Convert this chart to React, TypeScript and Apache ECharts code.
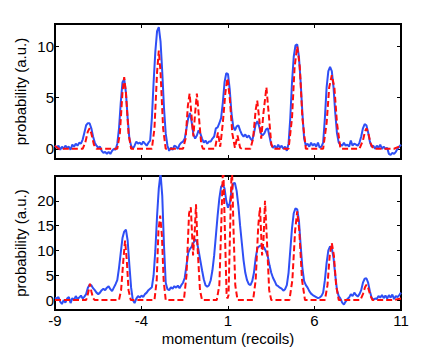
import React, { useEffect, useRef } from "react";
import * as echarts from "echarts";

// Sampling grid of the measured curves (momentum, recoils)
const momentumStart = -9;
const momentumStep = 0.1;

// Measured probability, upper panel (blue solid), one row per recoil unit
const topMeasured = [
  0.3, 0.1, 0.3, -0.1, 0.2, 0.0, 0.3, 0.1, 0.2, -0.1,
  0.4, 0.2, 0.5, 0.3, 0.6, 0.5, 0.9, 1.6, 2.3, 2.5,
  2.5, 2.0, 1.2, 0.6, 0.3, 0.1, 0.2, -0.2, -0.4, -0.3,
  -0.5, -0.3, -0.5, -0.2, 0.0, -0.1, 0.5, 2.0, 4.5, 6.5,
  6.8, 5.5, 3.0, 1.0, 0.3, 0.0, 0.3, 0.7, 0.5, 0.6,
  0.4, 0.7, 0.5, 0.3, 0.6, 0.8, 3.0, 6.5, 9.5, 11.5,
  11.9, 10.5, 7.5, 4.0, 1.5, 0.3, -0.2, 0.1, -0.1, 0.3,
  0.2, 0.0, 0.4, 0.6, 0.7, 1.0, 2.0, 3.0, 3.5, 2.6,
  1.4, 1.0, 1.3, 1.8, 1.5, 1.0, 0.6, 0.8, 0.5, 0.7,
  0.7, 1.0, 1.2, 2.0, 2.1, 2.5, 3.0, 4.5, 6.5, 7.4,
  7.3, 5.8, 3.5, 2.2, 1.8, 2.2, 2.3, 1.8, 1.4, 1.2,
  1.4, 1.1, 1.3, 1.0, 0.8, 1.5, 2.4, 2.7, 2.2, 1.5,
  1.3, 1.5, 1.9, 2.0, 1.2, 0.4, 0.1, 0.3, 0.0, 0.4,
  0.1, 0.3, 0.0, 0.2, -0.2, 0.5, 3.0, 6.5, 9.0, 10.1,
  10.2, 9.0, 6.5, 3.5, 1.0, 0.3, 0.5, 0.2, 0.6, 0.3,
  0.5, 0.2, 0.6, 0.1, 0.2, 0.6, 3.0, 6.0, 7.6, 8.0,
  7.6, 6.0, 3.5, 1.5, 0.6, 0.4, 0.3, 0.6, 0.3, 0.4,
  0.2, 0.8, 0.3, 0.5, 0.4, 0.3, 0.6, 1.2, 2.0, 2.4,
  2.3, 1.6, 0.7, 0.2, 0.3, 0.0, 0.3, 0.1, 0.4, 0.0,
  0.2, 0.0, 0.1, -0.5, -0.6, -0.4, -0.5, -0.3, 0.0, 0.2,
  0.4,
];

// Measured probability, lower panel (blue solid)
const bottomMeasured = [
  0.5, 0.3, 0.6, -0.3, -0.8, 0.0, -0.5, 0.3, 0.6, -0.6,
  0.4, 0.0, 0.8, 0.2, 0.5, 0.9, 0.3, 0.7, 1.2, 2.5,
  3.1, 3.0, 2.4, 2.0, 1.5, 1.2, 1.5, 2.0, 2.3, 2.0,
  2.5, 2.8, 2.2, 1.8, 2.5, 3.2, 4.0, 6.5, 9.5, 12.5,
  13.8, 14.2, 12.0, 7.0, 2.5, 0.0, -0.6, 0.3, 0.8, 0.5,
  0.9, 0.6, 1.2, 1.5, 2.0, 2.3, 2.6, 5.0, 10.0, 17.0,
  22.5, 25.5, 21.0, 11.0, 3.5, 2.2, 2.0, 2.6, 2.3, 2.8,
  2.5, 2.9, 2.4, 3.0, 3.5, 4.5, 7.0, 9.5, 10.3, 10.8,
  11.5, 12.2, 11.8, 10.0, 8.0, 6.0, 4.2, 3.0, 2.7, 3.0,
  4.0, 6.0, 9.0, 13.0, 17.0, 20.5, 22.8, 23.3, 22.5, 20.0,
  18.6, 19.5, 22.0, 23.5, 23.6, 22.0, 19.0, 15.0, 11.5, 8.0,
  5.5, 4.0, 3.2, 3.0, 3.8, 5.5, 8.5, 10.5, 10.8, 11.0,
  10.9, 10.5, 9.8, 8.8, 7.0, 5.5, 4.5, 3.8, 3.0, 2.8,
  2.5, 2.3, 1.9, 2.2, 3.0, 5.5, 10.0, 14.5, 17.5, 18.5,
  18.3, 16.0, 11.0, 6.5, 3.8, 3.0, 2.5, 1.8, 1.3, 1.0,
  0.8, 0.6, 0.4, 0.5, 0.8, 1.5, 4.0, 7.5, 10.0, 10.8,
  10.5, 8.5, 5.0, 2.0, 0.8, 0.3, -0.5, -0.9, -0.3, 0.2,
  0.5, 1.2, 0.8, 1.5, 1.0, 0.7, 1.2, 2.0, 3.5, 4.3,
  4.4, 3.5, 1.8, 0.5, 0.1, 0.3, 0.2, 0.8, 0.5, 1.0,
  0.4, 0.9, 0.3, 1.0, 0.5, 1.1, 0.2, 0.8, 0.6, 1.0,
  1.5,
];

// Theory, upper panel (red dashed): [momentum, probability]
const topTheory: [number, number][] = [
  [-9, 0.3], [-8.8, 0], [-7.4, 0], [-7.25, 0.6], [-7.1, 1.7], [-7.0, 2.0], [-6.9, 1.5], [-6.75, 0.4], [-6.6, 0],
  [-5.4, 0], [-5.25, 1.5], [-5.1, 5.5], [-5.0, 7.0], [-4.9, 5.5], [-4.75, 1.5], [-4.6, 0],
  [-3.4, 0], [-3.25, 2.0], [-3.1, 7.5], [-3.0, 9.6], [-2.9, 7.5], [-2.75, 2.0], [-2.6, 0],
  [-1.6, 0], [-1.45, 1.0], [-1.32, 4.2], [-1.22, 5.4], [-1.12, 3.5], [-1.0, 1.2], [-0.9, 3.5], [-0.8, 5.4], [-0.7, 3.5], [-0.55, 0.5], [-0.45, 0],
  [0.25, 0], [0.42, 1.6], [0.55, 0.2], [0.7, 2.5], [0.85, 5.5], [0.97, 6.9], [1.1, 5.0], [1.25, 1.5], [1.4, 0.1], [1.55, 1.3], [1.7, 0.1], [1.8, 0],
  [2.3, 0], [2.45, 1.0], [2.6, 3.8], [2.69, 4.7], [2.8, 3.0], [2.92, 1.0], [3.05, 3.5], [3.22, 6.0], [3.35, 3.5], [3.5, 0.5], [3.6, 0],
  [4.5, 0], [4.7, 3.0], [4.85, 8.0], [5.0, 10.0], [5.15, 8.0], [5.3, 3.0], [5.5, 0],
  [6.5, 0], [6.7, 2.5], [6.85, 6.0], [7.0, 7.2], [7.15, 6.0], [7.3, 2.5], [7.5, 0],
  [8.6, 0], [8.8, 0.8], [8.92, 1.7], [9.0, 2.0], [9.1, 1.6], [9.25, 0.5], [9.4, 0],
  [10.6, 0], [11, 0.3],
];

// Theory, lower panel (red dashed)
const bottomTheory: [number, number][] = [
  [-9, 0], [-7.2, 0], [-7.08, 1.5], [-6.98, 3.3], [-6.9, 1.8], [-6.8, 0.4], [-6.7, 0],
  [-5.3, 0], [-5.18, 2.0], [-5.05, 8.0], [-4.95, 12.0], [-4.85, 8.0], [-4.75, 2.0], [-4.62, 0],
  [-3.25, 0], [-3.12, 4.0], [-3.02, 14.0], [-2.92, 17.0], [-2.82, 13.0], [-2.72, 4.0], [-2.6, 0],
  [-1.55, 0], [-1.4, 5.0], [-1.25, 17.5], [-1.15, 18.7], [-1.02, 9.0], [-0.92, 14.0], [-0.85, 19.3], [-0.75, 10.0], [-0.62, 2.0], [-0.5, 0],
  [0.35, 0], [0.5, 3.0], [0.6, 14.0], [0.72, 28.0], [0.82, 14.0], [0.92, 1.0], [0.97, 0.3], [1.03, 1.0], [1.12, 14.0], [1.22, 28.0], [1.32, 14.0], [1.42, 3.0], [1.55, 0],
  [2.45, 0], [2.6, 4.0], [2.75, 15.0], [2.85, 18.7], [2.97, 9.0], [3.05, 12.0], [3.14, 20.0], [3.25, 12.0], [3.38, 2.0], [3.5, 0],
  [4.55, 0], [4.72, 4.0], [4.88, 14.0], [5.0, 17.9], [5.12, 14.0], [5.28, 4.0], [5.45, 0],
  [6.6, 0], [6.75, 3.0], [6.88, 9.0], [7.0, 11.5], [7.12, 9.0], [7.25, 3.0], [7.4, 0],
  [8.65, 0], [8.8, 1.2], [8.92, 2.6], [9.0, 3.1], [9.1, 2.5], [9.22, 1.0], [9.35, 0],
  [10.6, 0], [11, 0.3],
];

const xTicks = [-9, -4, 1, 6, 11];
const topYTicks = [0, 5, 10];
const bottomYTicks = [0, 5, 10, 15, 20];
const xName = "momentum (recoils)";
const yName = "probability (a.u.)";

const FONT = "'Liberation Sans', Arial, Helvetica, sans-serif";

function onGrid(values: number[]): [number, number][] {
  return values.map((v, i) => [Math.round((momentumStart + i * momentumStep) * 10) / 10, v]);
}

export default function App() {
  const ref = useRef<HTMLDivElement>(null);

  useEffect(() => {
    if (!ref.current) return;
    const chart = echarts.init(ref.current, null, { renderer: "svg" });

    const tick = (vals: number[]) => ({
      show: true,
      inside: true,
      length: 4,
      customValues: vals,
      lineStyle: { color: "#000", width: 1 },
    });

    const xAxis = (gridIndex: number, position: string, labels: boolean, name?: string) => ({
      type: "value",
      gridIndex,
      position,
      min: -9,
      max: 11,
      axisLine: { show: false, onZero: false },
      axisTick: tick(xTicks),
      axisLabel: {
        show: labels,
        customValues: xTicks,
        margin: 3,
        color: "#000",
        fontSize: 15,
        fontFamily: FONT,
      },
      splitLine: { show: false },
      name: name,
      nameLocation: "middle",
      nameGap: 21,
      nameMoveOverlap: false,
      nameTextStyle: { color: "#000", fontSize: 15, fontFamily: FONT },
    });

    const yAxis = (
      gridIndex: number,
      position: string,
      min: number,
      max: number,
      ticks: number[],
      labels: boolean,
      name?: string
    ) => ({
      type: "value",
      gridIndex,
      position,
      min,
      max,
      axisLine: { show: false, onZero: false },
      axisTick: tick(ticks),
      axisLabel: {
        show: labels,
        customValues: ticks,
        margin: 1,
        color: "#000",
        fontSize: 15,
        fontFamily: FONT,
      },
      splitLine: { show: false },
      name: name,
      nameLocation: "middle",
      nameRotate: 90,
      nameGap: 27.5,
      nameMoveOverlap: false,
      nameTextStyle: { color: "#000", fontSize: 15, fontFamily: FONT },
    });

    const gridStyle = {
      show: true,
      borderColor: "#000",
      borderWidth: 2,
      backgroundColor: "transparent",
      containLabel: false,
      outerBoundsMode: "none",
    };

    const blue = "#2f4ff5";
    const red = "#ff0d0d";

    const measured = (data: [number, number][], xi: number, yi: number) => ({
      type: "line",
      xAxisIndex: xi,
      yAxisIndex: yi,
      data,
      showSymbol: false,
      symbol: "none",
      clip: true,
      lineStyle: { color: blue, width: 2 },
      z: 2,
    });
    const theory = (data: [number, number][], xi: number, yi: number) => ({
      type: "line",
      xAxisIndex: xi,
      yAxisIndex: yi,
      data,
      showSymbol: false,
      symbol: "none",
      clip: true,
      lineStyle: { color: red, width: 2, type: [6, 3] },
      z: 3,
    });

    chart.setOption({
      animation: false,
      backgroundColor: "#fff",
      grid: [
        { left: 55, top: 24, width: 346, height: 135, ...gridStyle },
        { left: 55, top: 176, width: 346, height: 134, ...gridStyle },
      ],
      xAxis: [
        xAxis(0, "bottom", false),
        xAxis(0, "top", false),
        xAxis(1, "bottom", true, xName),
        xAxis(1, "top", false),
      ],
      yAxis: [
        yAxis(0, "left", -1, 12.2, topYTicks, true, yName),
        yAxis(0, "right", -1, 12.2, topYTicks, false),
        yAxis(1, "left", -2, 25, bottomYTicks, true, yName),
        yAxis(1, "right", -2, 25, bottomYTicks, false),
      ],
      series: [
        measured(onGrid(topMeasured), 0, 0),
        theory(topTheory, 0, 0),
        measured(onGrid(bottomMeasured), 2, 2),
        theory(bottomTheory, 2, 2),
      ],
    } as any);

    return () => chart.dispose();
  }, []);

  return (
    <div
      ref={ref}
      style={{ position: "absolute", left: 0, top: 0, width: 436, height: 349, background: "#fff" }}
    />
  );
}
